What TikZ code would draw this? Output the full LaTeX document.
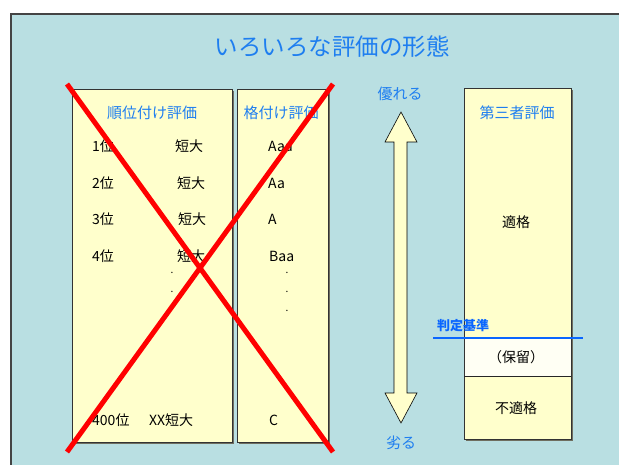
\documentclass[tikz,border=0pt]{standalone}
\usepackage{fontspec}
\setmainfont{Noto Sans CJK JP}
\definecolor{bgteal}{HTML}{B9DFE2}
\definecolor{boxyellow}{HTML}{FFFFCC}
\definecolor{holdwhite}{HTML}{FFFFF4}
\definecolor{titleblue}{HTML}{1E7EF0}
\definecolor{lineblue}{HTML}{0A66FF}
\definecolor{shadowgray}{HTML}{6E6E60}
\definecolor{framegray}{HTML}{444444}
\tikzset{
  panel/.style={draw=black!80, line width=0.8pt, fill=boxyellow, inner sep=0pt, outer sep=0pt},
  panelshadow/.style={fill=shadowgray},
  heading/.style={text=titleblue, font=\fontsize{15}{17}\selectfont, inner sep=0pt},
  body/.style={text=black, font=\fontsize{14}{16}\selectfont, inner sep=0pt},
  bodyw/.style={body, anchor=west},
  dotmark/.style={text=black, font=\fontsize{10}{12}\selectfont, inner sep=0pt, anchor=base},
  redcross/.style={draw=red, line width=5pt},
  bigarrow/.style={draw=black, line width=0.6pt, fill=boxyellow},
}
\begin{document}
\begin{tikzpicture}[x=1pt,y=-1pt]
\useasboundingbox (0,0) rectangle (619,465);
\fill[white] (0,0) rectangle (619,465);
\fill[bgteal] (11,14) rectangle (619,465);
\draw[framegray, line width=1.6pt] (11,465) -- (11,14) -- (619,14);

% title
\node[text=titleblue, font=\fontsize{23.5}{27}\selectfont, inner sep=0pt] (title) at (332,47) {いろいろな評価の形態};

% panel shadows
\fill[panelshadow] (74,91) rectangle (234,444);
\fill[panelshadow] (239,91) rectangle (330,444);
\fill[panelshadow] (466,90) rectangle (573,441);

% panels
\draw[panel] (72,89) rectangle (232,442);
\draw[panel] (237,89) rectangle (328,442);
\draw[panel] (464,88) rectangle (571,439);
\fill[holdwhite] (464.5,337) rectangle (570.5,376);
\draw[black!85, line width=0.8pt] (464,376) -- (571,376);

% headings
\node[heading] (rankhead) at (152,113) {順位付け評価};
\node[heading] (gradehead) at (281,113) {格付け評価};
\node[heading] (thirdhead) at (517,113) {第三者評価};

% rank column
\node[bodyw] (r1) at (92,146) {1位};
\node[bodyw] (s1) at (175,146) {短大};
\node[bodyw] (r2) at (92,183) {2位};
\node[bodyw] (s2) at (177,183) {短大};
\node[bodyw] (r3) at (92,219) {3位};
\node[bodyw] (s3) at (178,219) {短大};
\node[bodyw] (r4) at (92,256) {4位};
\node[bodyw] (s4) at (177,256) {短大};
\node[dotmark] (ld1) at (172,274) {.};
\node[dotmark] (ld2) at (172,293) {.};
\node[bodyw] (r400) at (92,420) {400位};
\node[bodyw] (s400) at (149,420) {XX短大};

% grade column
\node[bodyw] (g1) at (268,146) {Aaa};
\node[bodyw] (g2) at (268,183) {Aa};
\node[bodyw] (g3) at (268,219) {A};
\node[bodyw] (g4) at (269,256) {Baa};
\node[dotmark] (rd1) at (287,274) {.};
\node[dotmark] (rd2) at (287,293) {.};
\node[dotmark] (rd3) at (287,312) {.};
\node[bodyw] (g5) at (269,420) {C};

% double arrow
\draw[bigarrow] (401,112) -- (417,142) -- (407,142) -- (407,393) -- (417,393)
  -- (401,423) -- (385,393) -- (394,393) -- (394,142) -- (385,142) -- cycle;
\node[heading] (better) at (400,94) {優れる};
\node[heading] (worse) at (401,443) {劣る};

% third-party
\node[body] (pass) at (516,222) {適格};
\node[body] (hold) at (516,357) {（保留）};
\node[body] (fail) at (516,408) {不適格};
\draw[lineblue, line width=2.7pt] (433,338) -- (583,338);
\node[text=lineblue, font=\bfseries\fontsize{13}{15}\selectfont, inner sep=0pt] (criteria) at (463,326) {判定基準};

% red cross
\draw[redcross] (67,84) -- (333,452);
\draw[redcross] (333,84) -- (67,452);
\end{tikzpicture}
\end{document}
